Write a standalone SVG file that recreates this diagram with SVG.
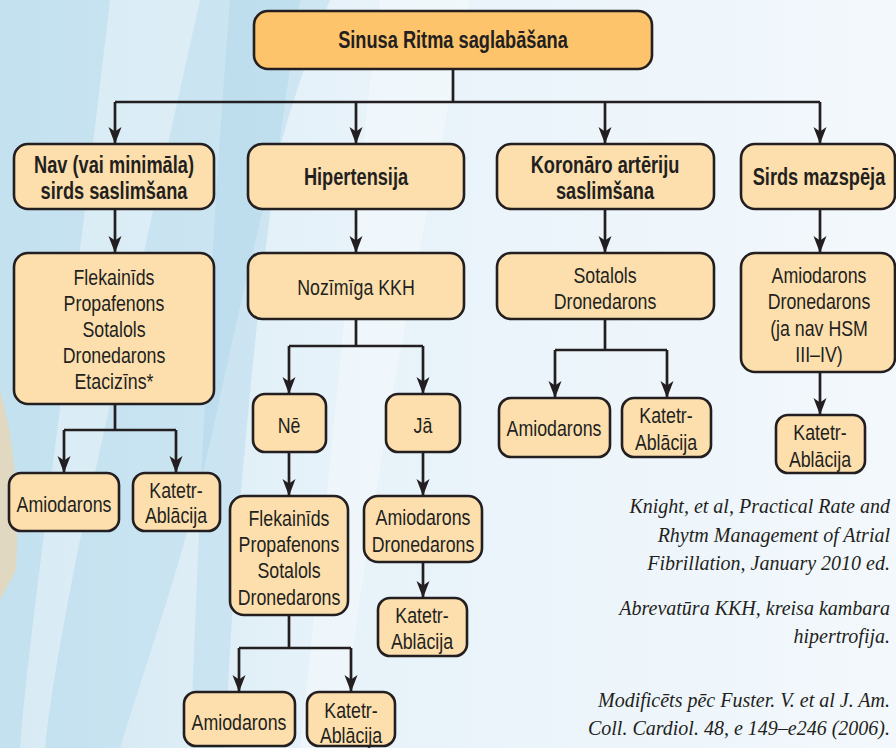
<svg xmlns="http://www.w3.org/2000/svg" width="896" height="748" viewBox="0 0 896 748">
<defs>
<linearGradient id="bg" x1="0" y1="0" x2="1" y2="0">
<stop offset="0" stop-color="#cfe6f2"/>
<stop offset="0.35" stop-color="#e6f2f9"/>
<stop offset="1" stop-color="#f3f8fc"/>
</linearGradient>
<marker id="ah" viewBox="-1 -8 19 16" refX="17" refY="0" markerWidth="19" markerHeight="16" markerUnits="userSpaceOnUse" orient="auto">
<path d="M0,-6.5 L17,0 L0,6.5 L4.5,0 z" fill="#231f20"/>
</marker>
<style>
.nd{fill:#fddfae;stroke:#231f20;stroke-width:2.6}
.top{fill:#fdc46b;stroke:#231f20;stroke-width:2.6}
.b{font-family:"Liberation Sans",Arial,sans-serif;font-weight:bold;font-size:23.5px;fill:#231f20;text-anchor:middle}
.r{font-family:"Liberation Sans",Arial,sans-serif;font-size:22.5px;fill:#231f20;text-anchor:middle}
.c{font-family:"Liberation Serif","Times New Roman",serif;font-style:italic;font-size:20px;fill:#231f20;text-anchor:end}
.ln{fill:none;stroke:#231f20;stroke-width:2.7}
</style>
</defs>
<g id="background">
<rect width="896" height="748" fill="url(#bg)"/>
<path d="M0,0 H330 C280,120 250,260 215,420 C190,540 150,650 120,748 H0 Z" fill="#b9dced" opacity="0.55"/>
<path d="M110,0 H200 C160,180 120,360 80,540 C60,640 50,700 45,748 H20 C30,620 60,430 110,0 Z" fill="#ffffff" opacity="0.35"/>
<path d="M380,0 H470 C430,200 380,420 340,748 H300 C330,480 350,240 380,0 Z" fill="#ffffff" opacity="0.35"/>
<path d="M0,390 C14,440 20,500 16,570 L0,600 Z" fill="#f8d199" opacity="0.55"/>
<path d="M230,0 H300 C270,200 240,420 225,748 H190 C200,500 210,250 230,0 Z" fill="#a6d2e8" opacity="0.35"/>
</g>
<g id="connectors">
<path class="ln" d="M453,69 V102 M115,102 H820"/>
<path class="ln" marker-end="url(#ah)" d="M115,102 V144"/>
<path class="ln" marker-end="url(#ah)" d="M356,102 V144"/>
<path class="ln" marker-end="url(#ah)" d="M605,102 V144"/>
<path class="ln" marker-end="url(#ah)" d="M820,102 V144"/>
<path class="ln" marker-end="url(#ah)" d="M115,209 V253"/>
<path class="ln" marker-end="url(#ah)" d="M356,209 V253"/>
<path class="ln" marker-end="url(#ah)" d="M605,209 V253"/>
<path class="ln" marker-end="url(#ah)" d="M820,209 V253"/>
<path class="ln" d="M115,404 V430 M64,430 H176"/>
<path class="ln" marker-end="url(#ah)" d="M64,430 V473"/>
<path class="ln" marker-end="url(#ah)" d="M176,430 V473"/>
<path class="ln" d="M356,319 V346 M289,346 H423"/>
<path class="ln" marker-end="url(#ah)" d="M289,346 V394"/>
<path class="ln" marker-end="url(#ah)" d="M423,346 V394"/>
<path class="ln" marker-end="url(#ah)" d="M289,452 V496"/>
<path class="ln" marker-end="url(#ah)" d="M423,452 V496"/>
<path class="ln" d="M289,615 V648 M239,648 H351"/>
<path class="ln" marker-end="url(#ah)" d="M239,648 V692"/>
<path class="ln" marker-end="url(#ah)" d="M351,648 V692"/>
<path class="ln" marker-end="url(#ah)" d="M423,562 V598"/>
<path class="ln" d="M605,319 V350 M555,350 H667"/>
<path class="ln" marker-end="url(#ah)" d="M555,350 V398"/>
<path class="ln" marker-end="url(#ah)" d="M667,350 V398"/>
<path class="ln" marker-end="url(#ah)" d="M820,372 V415"/>
</g>
<g id="root"><rect class="top" x="254" y="11" width="398" height="58" rx="14"/><g transform="translate(453,0) scale(0.775,1)"><text class="b" x="0" y="48">Sinusa Ritma saglabāšana</text></g></g>
<g id="n1"><rect class="nd" x="14" y="144" width="200" height="65" rx="14"/><g transform="translate(114,0) scale(0.775,1)"><text class="b" x="0" y="173">Nav (vai minimāla)</text><text class="b" x="0" y="199">sirds saslimšana</text></g></g>
<g id="n2"><rect class="nd" x="248" y="144" width="216" height="65" rx="14"/><g transform="translate(356,0) scale(0.775,1)"><text class="b" x="0" y="185">Hipertensija</text></g></g>
<g id="n3"><rect class="nd" x="497" y="144" width="217" height="65" rx="14"/><g transform="translate(605,0) scale(0.775,1)"><text class="b" x="0" y="173">Koronāro artēriju</text><text class="b" x="0" y="199">saslimšana</text></g></g>
<g id="n4"><rect class="nd" x="741" y="144" width="154" height="65" rx="14"/><g transform="translate(819,0) scale(0.775,1)"><text class="b" x="0" y="185">Sirds mazspēja</text></g></g>
<g id="m1"><rect class="nd" x="14" y="253" width="200" height="151" rx="14"/><g transform="translate(114,0) scale(0.79,1)"><text class="r" x="0" y="285">Flekainīds</text><text class="r" x="0" y="311">Propafenons</text><text class="r" x="0" y="337">Sotalols</text><text class="r" x="0" y="363">Dronedarons</text><text class="r" x="0" y="389">Etacizīns*</text></g></g>
<g id="m2"><rect class="nd" x="248" y="253" width="216" height="66" rx="14"/><g transform="translate(356,0) scale(0.79,1)"><text class="r" x="0" y="295">Nozīmīga KKH</text></g></g>
<g id="m3"><rect class="nd" x="497" y="253" width="217" height="66" rx="14"/><g transform="translate(605,0) scale(0.79,1)"><text class="r" x="0" y="283">Sotalols</text><text class="r" x="0" y="309">Dronedarons</text></g></g>
<g id="m4"><rect class="nd" x="741" y="253" width="154" height="119" rx="14"/><g transform="translate(819,0) scale(0.79,1)"><text class="r" x="0" y="283">Amiodarons</text><text class="r" x="0" y="309">Dronedarons</text><text class="r" x="0" y="336">(ja nav HSM</text><text class="r" x="0" y="362">III–IV)</text></g></g>
<g id="l1a"><rect class="nd" x="9" y="473" width="110" height="58" rx="12"/><g transform="translate(64,0) scale(0.79,1)"><text class="r" x="0" y="512">Amiodarons</text></g></g>
<g id="l1b"><rect class="nd" x="133" y="473" width="87" height="58" rx="12"/><g transform="translate(176,0) scale(0.79,1)"><text class="r" x="0" y="498">Katetr-</text><text class="r" x="0" y="523">Ablācija</text></g></g>
<g id="ne"><rect class="nd" x="253" y="394" width="73" height="58" rx="12"/><g transform="translate(289,0) scale(0.79,1)"><text class="r" x="0" y="433">Nē</text></g></g>
<g id="ja"><rect class="nd" x="386" y="394" width="74" height="58" rx="12"/><g transform="translate(423,0) scale(0.79,1)"><text class="r" x="0" y="433">Jā</text></g></g>
<g id="ne1"><rect class="nd" x="230" y="496" width="118" height="119" rx="14"/><g transform="translate(289,0) scale(0.79,1)"><text class="r" x="0" y="526">Flekainīds</text><text class="r" x="0" y="552">Propafenons</text><text class="r" x="0" y="578">Sotalols</text><text class="r" x="0" y="605">Dronedarons</text></g></g>
<g id="ja1"><rect class="nd" x="364" y="496" width="118" height="66" rx="14"/><g transform="translate(423,0) scale(0.79,1)"><text class="r" x="0" y="525">Amiodarons</text><text class="r" x="0" y="552">Dronedarons</text></g></g>
<g id="ja2"><rect class="nd" x="378" y="598" width="89" height="58" rx="12"/><g transform="translate(422,0) scale(0.79,1)"><text class="r" x="0" y="623">Katetr-</text><text class="r" x="0" y="649">Ablācija</text></g></g>
<g id="ne2a"><rect class="nd" x="184" y="692" width="111" height="54" rx="12"/><g transform="translate(239,0) scale(0.79,1)"><text class="r" x="0" y="730">Amiodarons</text></g></g>
<g id="ne2b"><rect class="nd" x="307" y="692" width="88" height="54" rx="12"/><g transform="translate(351,0) scale(0.79,1)"><text class="r" x="0" y="718">Katetr-</text><text class="r" x="0" y="743">Ablācija</text></g></g>
<g id="k3a"><rect class="nd" x="499" y="398" width="111" height="59" rx="12"/><g transform="translate(554,0) scale(0.79,1)"><text class="r" x="0" y="436">Amiodarons</text></g></g>
<g id="k3b"><rect class="nd" x="622" y="398" width="89" height="59" rx="12"/><g transform="translate(666,0) scale(0.79,1)"><text class="r" x="0" y="423">Katetr-</text><text class="r" x="0" y="450">Ablācija</text></g></g>
<g id="k4"><rect class="nd" x="776" y="415" width="89" height="58" rx="12"/><g transform="translate(820,0) scale(0.79,1)"><text class="r" x="0" y="440">Katetr-</text><text class="r" x="0" y="467">Ablācija</text></g></g>
<g id="notes">
<text class="c" x="890" y="513">Knight, et al, Practical Rate and</text>
<text class="c" x="890" y="542">Rhytm Management of Atrial</text>
<text class="c" x="890" y="570">Fibrillation, January 2010 ed.</text>
<text class="c" x="890" y="615">Abrevatūra KKH, kreisa kambara</text>
<text class="c" x="890" y="643">hipertrofija.</text>
<text class="c" x="890" y="707">Modificēts pēc Fuster. V. et al J. Am.</text>
<text class="c" x="890" y="735">Coll. Cardiol. 48, e 149–e246 (2006).</text>
</g>
</svg>
